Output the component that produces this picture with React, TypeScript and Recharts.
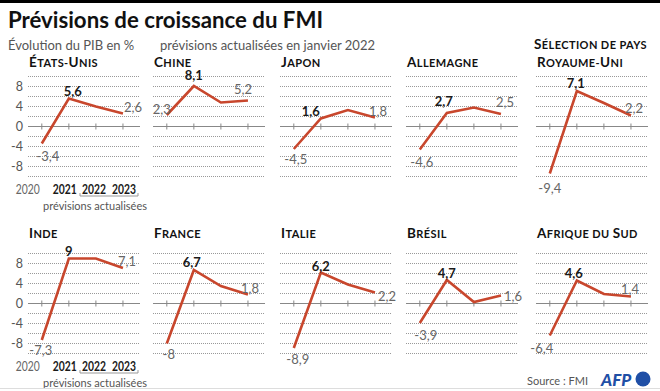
import React from "react";
import { LineChart, Line, XAxis, YAxis, ReferenceLine, LabelList } from "recharts";

const years = [2020, 2021, 2022, 2023];
const yLabels = [-8, -4, 0, 4, 8];
const gridValues = [-10, -8, -6, -4, -2, 2, 4, 6, 8, 10];

const etatsUnis = [-3.4, 5.6, 4.0, 2.6];
const chine = [2.3, 8.1, 4.8, 5.2];
const japon = [-4.5, 1.6, 3.3, 1.8];
const allemagne = [-4.6, 2.7, 3.8, 2.5];
const royaumeUni = [-9.4, 7.1, 4.7, 2.2];
const inde = [-7.3, 9, 9, 7.1];
const france = [-8, 6.7, 3.5, 1.8];
const italie = [-8.9, 6.2, 3.8, 2.2];
const bresil = [-3.9, 4.7, 0.3, 1.6];
const afriqueDuSud = [-6.4, 4.6, 1.9, 1.4];

const RED = "#c8472d";
const GREY = "#666";
const DARK = "#1a1a1a";
const GRID = "#999";
const FONT = "Lato, 'Noto Sans', sans-serif";

// layout of the grid of small charts
const colX = [28, 153, 280, 406, 536];
const rowTop = [62, 239];
const PLOT_W = 112;
const PLOT_H = 100;
const MARGIN_TOP = 14.5;
const PAD_LEFT = 16;

// label offsets (centre of text relative to point) for 2020, 2021, 2023
type Off = [number, number];
const panels: { name: string; values: number[]; offsets: Off[] }[] = [
  { name: "États-Unis", values: etatsUnis, offsets: [[6, 12], [4, -8], [10, -7]] },
  { name: "Chine", values: chine, offsets: [[-5, -6], [0, -11], [-5, -12]] },
  { name: "Japon", values: japon, offsets: [[2, 10], [-10, -8], [3, -7]] },
  { name: "Allemagne", values: allemagne, offsets: [[2, 12], [-3, -12], [4, -12]] },
  { name: "Royaume-Uni", values: royaumeUni, offsets: [[0, 14], [-1, -8], [3, -8]] },
  { name: "Inde", values: inde, offsets: [[-1, 10], [0, -8], [4, -7]] },
  { name: "France", values: france, offsets: [[2, 10], [-2, -8], [2, -7]] },
  { name: "Italie", values: italie, offsets: [[4, 11], [0, -7], [12, 3]] },
  { name: "Brésil", values: bresil, offsets: [[6, 12], [0, -7], [12, 0]] },
  { name: "Afrique du Sud", values: afriqueDuSud, offsets: [[-8, 12], [-3, -8], [-1, -8]] },
];

const fmt = (v: number) => String(v).replace(".", ",");

// fake small caps: capitals large, the rest upper-cased and smaller
function SmallCaps({ text, big = 13.5, small = 11 }: { text: string; big?: number; small?: number }) {
  return (
    <>
      {text.split("").map((ch, i) => {
        const isCap = ch !== ch.toLowerCase();
        return (
          <tspan key={i} fontSize={isCap ? big : small}>
            {ch.toUpperCase()}
          </tspan>
        );
      })}
    </>
  );
}

function YearTick(props: any) {
  const { x, y, payload, index } = props;
  const shift = [-14, -4, -2, 1][index] ?? 0;
  const bold = payload.value !== 2020;
  return (
    <text
      x={x + shift}
      y={y + 11}
      textAnchor="middle"
      dominantBaseline="central"
      fontSize={12.5}
      fontFamily={FONT}
      fontWeight={bold ? 700 : 400}
      fill={bold ? DARK : GREY}
      textLength={24}
      lengthAdjust="spacingAndGlyphs"
    >
      {payload.value}
    </text>
  );
}

function Panel({ values, offsets, col, row }: { values: number[]; offsets: Off[]; col: number; row: number }) {
  const first = col === 0;
  const data = years.map((year, i) => ({ year, value: values[i] }));
  const left = first ? 0 : colX[col] - PAD_LEFT;
  const width = (first ? colX[0] : PAD_LEFT) + PLOT_W + 18;

  const renderLabel = (p: any) => {
    const { x, y, value, index } = p;
    if (index === 2) return null;
    const k = index === 3 ? 2 : index;
    const [dx, dy] = offsets[k];
    return (
      <text
        x={x + dx}
        y={y + dy}
        textAnchor="middle"
        dominantBaseline="central"
        fontSize={13}
        fontFamily={FONT}
        fontWeight={index === 1 ? 700 : 400}
        fill={index === 1 ? DARK : GREY}
      >
        {fmt(value)}
      </text>
    );
  };

  return (
    <div style={{ position: "absolute", left, top: rowTop[row] }}>
      <LineChart
        width={width}
        height={MARGIN_TOP + PLOT_H + 24}
        data={data}
        margin={{ top: MARGIN_TOP, right: 18, bottom: first ? 4 : 24, left: first ? 0 : PAD_LEFT }}
      >
        <XAxis
          dataKey="year"
          type="number"
          domain={[2019.49, 2023.63]}
          ticks={years}
          interval={0}
          hide={!first}
          height={20}
          axisLine={false}
          tickLine={false}
          tickSize={0}
          tick={<YearTick />}
          allowDataOverflow
        />
        <YAxis
          type="number"
          domain={[-10, 10]}
          ticks={yLabels}
          interval={0}
          hide={!first}
          width={colX[0]}
          axisLine={false}
          tickLine={false}
          tickSize={0}
          tickMargin={5}
          tick={{ fontSize: 12.5, fill: "#555", fontFamily: FONT }}
          allowDataOverflow
        />
        {gridValues.map((v) => (
          <ReferenceLine
            key={"g" + v}
            y={v}
            stroke={GRID}
            strokeWidth={1}
            strokeDasharray="1 1"
            shapeRendering="crispEdges"
            ifOverflow="extendDomain"
          />
        ))}
        <ReferenceLine y={0} stroke="#888" strokeWidth={1.2} />
        {years.map((yr) => (
          <ReferenceLine
            key={yr}
            segment={[{ x: yr, y: -0.6 }, { x: yr, y: 0.6 }]}
            stroke="#888"
            strokeWidth={1}
          />
        ))}
        <Line dataKey="value" stroke={RED} strokeWidth={2.6} dot={false} isAnimationActive={false}>
          <LabelList dataKey="value" content={renderLabel} />
        </Line>
      </LineChart>
    </div>
  );
}

export default function App() {
  const titleBase = [67, 238];
  return (
    <div
      style={{
        position: "absolute",
        left: 0,
        top: 0,
        width: 660,
        height: 391,
        background: "#fff",
        fontFamily: FONT,
        overflow: "hidden",
      }}
    >
      <svg width={660} height={391} style={{ position: "absolute", left: 0, top: 0 }}>
        <rect x={0} y={0} width={660} height={3} fill="#000" />
        <text
          x={8}
          y={28}
          fontSize={22}
          fontWeight={700}
          fill="#111"
          fontFamily={FONT}
          textLength={315}
          lengthAdjust="spacingAndGlyphs"
        >
          Prévisions de croissance du FMI
        </text>
        <text x={8} y={50} fontSize={13} fill="#555" fontFamily={FONT}>
          Évolution du PIB en %
        </text>
        <text x={160} y={50} fontSize={13} fill="#555" fontFamily={FONT}>
          prévisions actualisées en janvier 2022
        </text>
        <text x={647} y={49} textAnchor="end" fontWeight={700} fill="#111" fontFamily={FONT} letterSpacing={0.4}>
          <SmallCaps text="Sélection de pays" />
        </text>
        {panels.map((p, i) => (
          <text
            key={p.name}
            x={colX[i % 5] + 1}
            y={titleBase[Math.floor(i / 5)]}
            fontWeight={700}
            fill="#111"
            fontFamily={FONT}
            letterSpacing={0.4}
          >
            <SmallCaps text={p.name} />
          </text>
        ))}
        {[196, 373].map((by, r) => (
          <g key={r}>
            <path d={`M80,${by - 3} L80,${by} L138,${by} L138,${by - 3}`} fill="none" stroke="#999" strokeWidth={1} />
            <text
              x={95}
              y={by + 9}
              textAnchor="middle"
              dominantBaseline="central"
              fontSize={12}
              fill="#555"
              fontFamily={FONT}
              textLength={104}
              lengthAdjust="spacingAndGlyphs"
            >
              prévisions actualisées
            </text>
          </g>
        ))}
        <text x={588} y={385} textAnchor="end" fontSize={11} fill="#555" fontFamily={FONT}>
          Source : FMI
        </text>
        <text x={601} y={386} fontSize={17} fontWeight={900} fontStyle="italic" fill="#1f4fa6" fontFamily={FONT}>
          AFP
        </text>
        <circle cx={643} cy={379} r={7.5} fill="#1f4fa6" />
        <rect x={0} y={388} width={660} height={1} fill="#ddd" />
      </svg>
      {panels.map((p, i) => (
        <Panel key={p.name} values={p.values} offsets={p.offsets} col={i % 5} row={Math.floor(i / 5)} />
      ))}
    </div>
  );
}
